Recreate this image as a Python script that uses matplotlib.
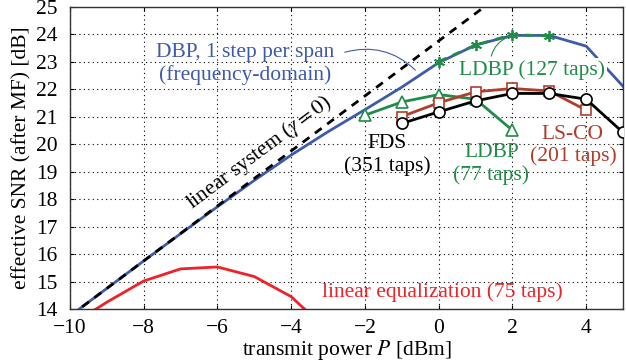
import numpy as np
import matplotlib
matplotlib.use("Agg")
import matplotlib.pyplot as plt

plt.rcParams["font.family"] = ["Liberation Serif", "DejaVu Serif"]
plt.rcParams["mathtext.fontset"] = "stix"
plt.rcParams["font.size"] = 15.5

# transmit power grid [dBm]
p_lin = [-10, 5]
snr_lin = [13.75, 28.75]  # linear system (gamma = 0)

p_dbp = [-10, -9, -8, -7, -6, -5, -4, -3, -2, -1, 0, 1, 2, 3, 4, 5]
snr_dbp = [13.75, 14.75, 15.75, 16.74, 17.72, 18.68, 19.6, 20.45, 21.25, 22.07,
           22.96, 23.6, 23.95, 23.95, 23.56, 22.1]

p_ldbp127 = [0, 1, 2, 3]
snr_ldbp127 = [23.0, 23.6, 23.98, 23.93]

p_ldbp77 = [-2, -1, 0, 1, 2]
snr_ldbp77 = [21.05, 21.53, 21.8, 21.63, 20.5]

p_lsco = [-1, 0, 1, 2, 3, 4]
snr_lsco = [21.0, 21.5, 21.9, 22.02, 21.93, 21.23]

p_fds = [-1, 0, 1, 2, 3, 4, 5]
snr_fds = [20.75, 21.17, 21.57, 21.84, 21.84, 21.63, 20.42]

p_leq = [-10, -9, -8, -7, -6, -5, -4, -3]
snr_leq = [13.4, 14.25, 15.02, 15.46, 15.53, 15.18, 14.45, 13.2]

c_blue = "#3d5aab"
c_green = "#1f8c48"
c_lsco = "#b03c2c"
c_red = "#ee2228"

fig = plt.figure(figsize=(6.26, 3.64), dpi=100)
ax = fig.add_axes([0.1118, 0.151, 0.8835, 0.831])

ax.plot(p_leq, snr_leq, color=c_red, lw=2.0, zorder=2)
ax.plot(p_dbp, snr_dbp, color=c_blue, lw=2.0, zorder=3)
ax.plot(p_lin, snr_lin, color="black", lw=2.0, ls=(0, (3, 2.5)), zorder=4)
ax.plot(p_ldbp127, snr_ldbp127, color=c_green, lw=2.0, ls=(0, (3, 2.5)),
        marker=(6, 2, 0), ms=8, mew=1.3, zorder=5)
ax.plot(p_ldbp77, snr_ldbp77, color=c_green, lw=2.0, marker="^", ms=8,
        mfc="white", mew=1.2, zorder=5)
ax.plot(p_lsco, snr_lsco, color=c_lsco, lw=2.0, marker="s", ms=7,
        mfc="white", mew=1.2, zorder=6)
ax.plot(p_fds, snr_fds, color="black", lw=2.0, marker="o", ms=8,
        mfc="white", mew=1.2, zorder=7)

ax.set_xlim(-10, 5)
ax.set_ylim(14, 25)
ax.set_xticks([-10, -8, -6, -4, -2, 0, 2, 4])
ax.set_yticks(range(14, 26))
ax.grid(True, color="black", ls=(0, (1, 3)), lw=0.8)
ax.tick_params(direction="in", top=True, right=True, length=3)
ax.tick_params(axis="x", pad=7)
ax.tick_params(axis="y", pad=9)
for s in ax.spines.values():
    s.set_linewidth(1.0)
    s.set_color("#333333")

ax.set_xlabel("transmit power $P$ [dBm]", labelpad=0)
ax.set_ylabel("effective SNR (after MF) [dB]", labelpad=3)

# annotations
ax.text(-5.24, 22.9, "DBP, 1 step per span\n(frequency-domain)", color=c_blue,
        ha="center", va="center", multialignment="center", zorder=8)
ax.annotate("", xy=(-0.58, 22.62), xytext=(-2.62, 23.31),
            arrowprops=dict(arrowstyle="-", color=c_blue, lw=0.8,
                            connectionstyle="arc3,rad=-0.3"), zorder=8)
ax.text(2.53, 22.69, "LDBP (127 taps)", color=c_green, ha="center", va="center",
        bbox=dict(facecolor="white", edgecolor="none", pad=1.5), zorder=8)
ax.annotate("", xy=(1.96, 23.93), xytext=(1.41, 23.1),
            arrowprops=dict(arrowstyle="-", color=c_green, lw=0.8,
                            connectionstyle="arc3,rad=-0.3"), zorder=8)
ax.text(-1.4, 19.6, "FDS\n(351 taps)", color="black", ha="center", va="center",
        multialignment="center", zorder=8)
ax.text(1.43, 19.27, "LDBP\n(77 taps)", color=c_green, ha="center", va="center",
        multialignment="center", zorder=8)
ax.text(3.64, 19.95, "LS-CO\n(201 taps)", color=c_lsco, ha="center", va="center",
        multialignment="center", zorder=8)
ax.text(0.1, 14.62, "linear equalization (75 taps)", color=c_red,
        ha="center", va="center", zorder=8)
ax.text(-4.86, 19.67, r"linear system ($\gamma = 0$)", color="black",
        ha="center", va="center", rotation=36.8, rotation_mode="anchor", zorder=8)

fig.savefig("out.png", dpi=100)
